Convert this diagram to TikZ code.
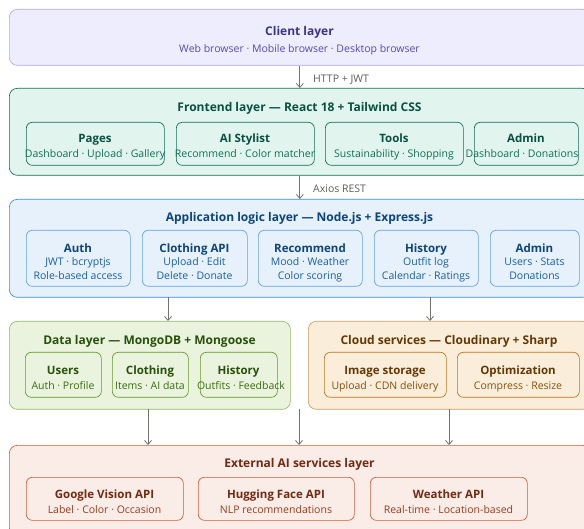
\documentclass[tikz,border=0pt]{standalone}
\usepackage{fontspec}
\setmainfont{Open Sans}
\usetikzlibrary{arrows.meta}
\definecolor{clFill}{HTML}{EEEDFE}\definecolor{clDraw}{HTML}{AFA9EC}\definecolor{clT}{HTML}{3C3489}\definecolor{clS}{HTML}{534AB7}
\definecolor{feFill}{HTML}{E1F5EE}\definecolor{feDraw}{HTML}{0F6E56}\definecolor{feT}{HTML}{085041}\definecolor{feS}{HTML}{0F6E56}
\definecolor{apFill}{HTML}{E6F1FB}\definecolor{apDraw}{HTML}{378ADD}\definecolor{apT}{HTML}{0C447C}\definecolor{apS}{HTML}{185FA5}
\definecolor{daFill}{HTML}{EAF3DE}\definecolor{daDraw}{HTML}{639922}\definecolor{daT}{HTML}{27500A}\definecolor{daS}{HTML}{3B6D11}
\definecolor{cdFill}{HTML}{FAEEDA}\definecolor{cdDraw}{HTML}{BA7517}\definecolor{cdT}{HTML}{633806}\definecolor{cdS}{HTML}{854F0B}
\definecolor{exFill}{HTML}{FAECE7}\definecolor{exDraw}{HTML}{D85A30}\definecolor{exT}{HTML}{712B13}\definecolor{exS}{HTML}{993C1D}
\definecolor{arrGray}{HTML}{73726C}\definecolor{lblGray}{HTML}{5F5E5A}
\begin{document}
\begin{tikzpicture}[x=1pt,y=-1pt,
  box/.style={draw, anchor=north west, inner sep=0pt, line width=0.65pt},
  outerbox/.style={box, rounded corners=8pt},
  subbox/.style={box, rounded corners=6pt},
  ttl/.style={font=\fontsize{12}{14}\selectfont\bfseries, anchor=base, yshift=-4.3pt, inner sep=0pt},
  subttl/.style={font=\fontsize{11.5}{13}\selectfont\bfseries, anchor=base, yshift=-4.1pt, inner sep=0pt},
  desc/.style={font=\fontsize{10.5}{12}\selectfont, anchor=base, yshift=-3.7pt, inner sep=0pt},
  arr/.style={draw=arrGray, line width=0.8pt, -{Straight Barb[length=4pt,width=7pt]}},
  lbl/.style={font=\fontsize{10.5}{12}\selectfont, text=lblGray, anchor=base west, yshift=-3.7pt, inner sep=0pt}]
\clip (0,0) rectangle (584,529);
\fill[white] (0,0) rectangle (584,529);
% Client layer
\node[outerbox, fill=clFill, draw=clDraw, minimum width=581pt, minimum height=56pt] (client) at (9,9) {};
\node[ttl, text=clT] (clientT) at (299.5,31) {Client layer};
\node[desc, text=clS] (clientS) at (299.5,48.5) {Web browser · Mobile browser · Desktop browser};
% Frontend layer
\node[outerbox, fill=feFill, draw=feDraw, minimum width=581pt, minimum height=87pt] (front) at (9,88) {};
\node[ttl, text=feT] (frontT) at (299.5,107) {Frontend layer — React 18 + Tailwind CSS};
\node[subbox, draw=feDraw, minimum width=138pt, minimum height=43pt] (pages) at (26,122) {};
\node[subbox, draw=feDraw, minimum width=138pt, minimum height=43pt] (stylist) at (176,122) {};
\node[subbox, draw=feDraw, minimum width=138pt, minimum height=43pt] (tools) at (325,122) {};
\node[subbox, draw=feDraw, minimum width=104pt, minimum height=43pt] (fadmin) at (474,122) {};
\node[subttl, text=feT] at (95,138) {Pages};
\node[desc, text=feS] at (95,154) {Dashboard · Upload · Gallery};
\node[subttl, text=feT] at (245,138) {AI Stylist};
\node[desc, text=feS] at (245,154) {Recommend · Color matcher};
\node[subttl, text=feT] at (394,138) {Tools};
\node[desc, text=feS] at (394,154) {Sustainability · Shopping};
\node[subttl, text=feT] at (526,138) {Admin};
\node[desc, text=feS] at (522,154) {Dashboard · Donations};
% Application logic layer
\node[outerbox, fill=apFill, draw=apDraw, minimum width=581pt, minimum height=98pt] (app) at (9,199) {};
\node[ttl, text=apT] (appT) at (299.5,217) {Application logic layer — Node.js + Express.js};
\node[subbox, draw=apDraw!80, minimum width=104pt, minimum height=56pt] (auth) at (26,230) {};
\node[subbox, draw=apDraw!80, minimum width=105pt, minimum height=56pt] (capi) at (142,230) {};
\node[subbox, draw=apDraw!80, minimum width=104pt, minimum height=56pt] (recom) at (258,230) {};
\node[subbox, draw=apDraw!80, minimum width=104pt, minimum height=56pt] (hist) at (374,230) {};
\node[subbox, draw=apDraw!80, minimum width=89pt, minimum height=56pt] (aadmin) at (490,230) {};
\node[subttl, text=apT] at (78,248) {Auth};
\node[desc, text=apS] at (78,262) {JWT · bcryptjs};
\node[desc, text=apS] at (78,276) {Role-based access};
\node[subttl, text=apT] at (194.5,248) {Clothing API};
\node[desc, text=apS] at (194.5,262) {Upload · Edit};
\node[desc, text=apS] at (194.5,276) {Delete · Donate};
\node[subttl, text=apT] at (310,248) {Recommend};
\node[desc, text=apS] at (310,262) {Mood · Weather};
\node[desc, text=apS] at (310,276) {Color scoring};
\node[subttl, text=apT] at (426,248) {History};
\node[desc, text=apS] at (426,262) {Outfit log};
\node[desc, text=apS] at (426,276) {Calendar · Ratings};
\node[subttl, text=apT] at (534.5,248) {Admin};
\node[desc, text=apS] at (534.5,262) {Users · Stats};
\node[desc, text=apS] at (534.5,276) {Donations};
% Data layer
\node[outerbox, fill=daFill, draw=daDraw!70, minimum width=281pt, minimum height=88pt] (data) at (9,321) {};
\node[ttl, text=daT] (dataT) at (149.5,340) {Data layer — MongoDB + Mongoose};
\node[subbox, draw=daDraw, minimum width=76pt, minimum height=45pt] (users) at (25,352) {};
\node[subbox, draw=daDraw, minimum width=76pt, minimum height=45pt] (cloth) at (112,352) {};
\node[subbox, draw=daDraw, minimum width=77pt, minimum height=45pt] (dhist) at (200,352) {};
\node[subttl, text=daT] at (63,370) {Users};
\node[desc, text=daS] at (63,386) {Auth · Profile};
\node[subttl, text=daT] at (150,370) {Clothing};
\node[desc, text=daS] at (150,386) {Items · AI data};
\node[subttl, text=daT] at (238.5,370) {History};
\node[desc, text=daS] at (241,386) {Outfits · Feedback};
% Cloud services
\node[outerbox, fill=cdFill, draw=cdDraw!70, minimum width=282pt, minimum height=88pt] (cloud) at (308,321) {};
\node[ttl, text=cdT] (cloudT) at (449,340) {Cloud services — Cloudinary + Sharp};
\node[subbox, draw=cdDraw, minimum width=122pt, minimum height=45pt] (imgst) at (324,352) {};
\node[subbox, draw=cdDraw, minimum width=122pt, minimum height=45pt] (optim) at (457,352) {};
\node[subttl, text=cdT] at (385,370) {Image storage};
\node[desc, text=cdS] at (385,386) {Upload · CDN delivery};
\node[subttl, text=cdT] at (518,370) {Optimization};
\node[desc, text=cdS] at (518,386) {Compress · Resize};
% External AI services
\node[outerbox, fill=exFill, draw=exDraw, minimum width=581pt, minimum height=90pt] (ext) at (9,445) {};
\node[ttl, text=exT] (extT) at (299.5,463) {External AI services layer};
\node[subbox, draw=exDraw, minimum width=157pt, minimum height=43pt] (gvis) at (26,477) {};
\node[subbox, draw=exDraw, minimum width=156pt, minimum height=43pt] (hface) at (198,477) {};
\node[subbox, draw=exDraw, minimum width=157pt, minimum height=43pt] (weath) at (370,477) {};
\node[subttl, text=exT] at (104.5,494) {Google Vision API};
\node[desc, text=exS] at (104.5,509.5) {Label · Color · Occasion};
\node[subttl, text=exT] at (276,494) {Hugging Face API};
\node[desc, text=exS] at (276,509.5) {NLP recommendations};
\node[subttl, text=exT] at (448.5,494) {Weather API};
\node[desc, text=exS] at (448.5,509.5) {Real-time · Location-based};
% Connectors
\draw[arr] (client.south) -- (front.north);
\node[lbl] (l1) at (313,79) {HTTP + JWT};
\draw[arr] (front.south) -- (app.north);
\node[lbl] (l2) at (313,189) {Axios REST};
\coordinate (a1) at (168,297);
\coordinate (a2) at (430,297);
\draw[arr] (a1) -- (a1 |- data.north);
\draw[arr] (a2) -- (a2 |- cloud.north);
\coordinate (b1) at (148,409);
\coordinate (b2) at (299,409);
\coordinate (b3) at (449,409);
\draw[arr] (b1) -- (b1 |- ext.north);
\draw[arr] (b2) -- (b2 |- ext.north);
\draw[arr] (b3) -- (b3 |- ext.north);
\end{tikzpicture}
\end{document}
